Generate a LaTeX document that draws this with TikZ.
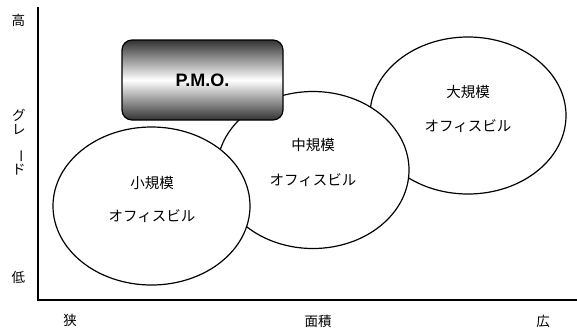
\documentclass[tikz,border=0pt]{standalone}
\usepackage{fontspec}
\newfontfamily\jp{Noto Sans CJK JP}
\setmainfont{Liberation Sans}
\usetikzlibrary{shapes.geometric}
\begin{document}
\begin{tikzpicture}[x=1pt,y=-1pt,
  bubble/.style={draw=black, line width=1.2pt, fill=white, ellipse, inner sep=0pt},
  jtext/.style={font=\jp\fontsize{14.5}{16}\selectfont, inner sep=0pt},
  axlabel/.style={font=\jp\fontsize{13.5}{15}\selectfont, inner sep=0pt},
  pmobox/.style={draw=black, line width=1.2pt, rounded corners=10pt,
     top color=black!80, bottom color=black!80, middle color=white,
     minimum width=161pt, minimum height=80pt, inner sep=0pt,
     font=\bfseries\fontsize{18}{20}\selectfont}]
\useasboundingbox (0,0) rectangle (577,327);
% axes
\coordinate (o) at (37.5,300);
\coordinate (ytop) at (37.5,7);
\coordinate (xend) at (577,300);
\draw[line width=2pt] (ytop) -- (o) -- (xend);
% axis labels
\node[axlabel] (hi) at (18.5,20) {高};
\node[axlabel] (lo) at (18.5,277) {低};
\node[axlabel, align=center, font=\jp\fontsize{13.5}{14.5}\selectfont] (grade) at (19,142) {グ\\レ\\\rotatebox{-90}{ー}\\ド};
\node[axlabel] (narrow) at (70,320) {狭};
\node[axlabel] (area) at (318,321) {面積};
\node[axlabel] (wide) at (543,321) {広};
% ellipses
\node[bubble, minimum width=196pt, minimum height=157pt] (large) at (468,115.5) {};
\node[bubble, minimum width=192pt, minimum height=157pt] (mid) at (313,170) {};
\node[bubble, minimum width=197pt, minimum height=158pt] (small) at (151.5,206) {};
% PMO
\node[pmobox] (pmo) at (202.5,80) {P.M.O.};
% texts
\node[jtext] (t1a) at (468,92) {大規模};
\node[jtext] (t1b) at (468,126) {オフィスビル};
\node[jtext] (t2a) at (313,145) {中規模};
\node[jtext] (t2b) at (313,180) {オフィスビル};
\node[jtext] (t3a) at (152,183) {小規模};
\node[jtext] (t3b) at (152,216) {オフィスビル};
\end{tikzpicture}
\end{document}
